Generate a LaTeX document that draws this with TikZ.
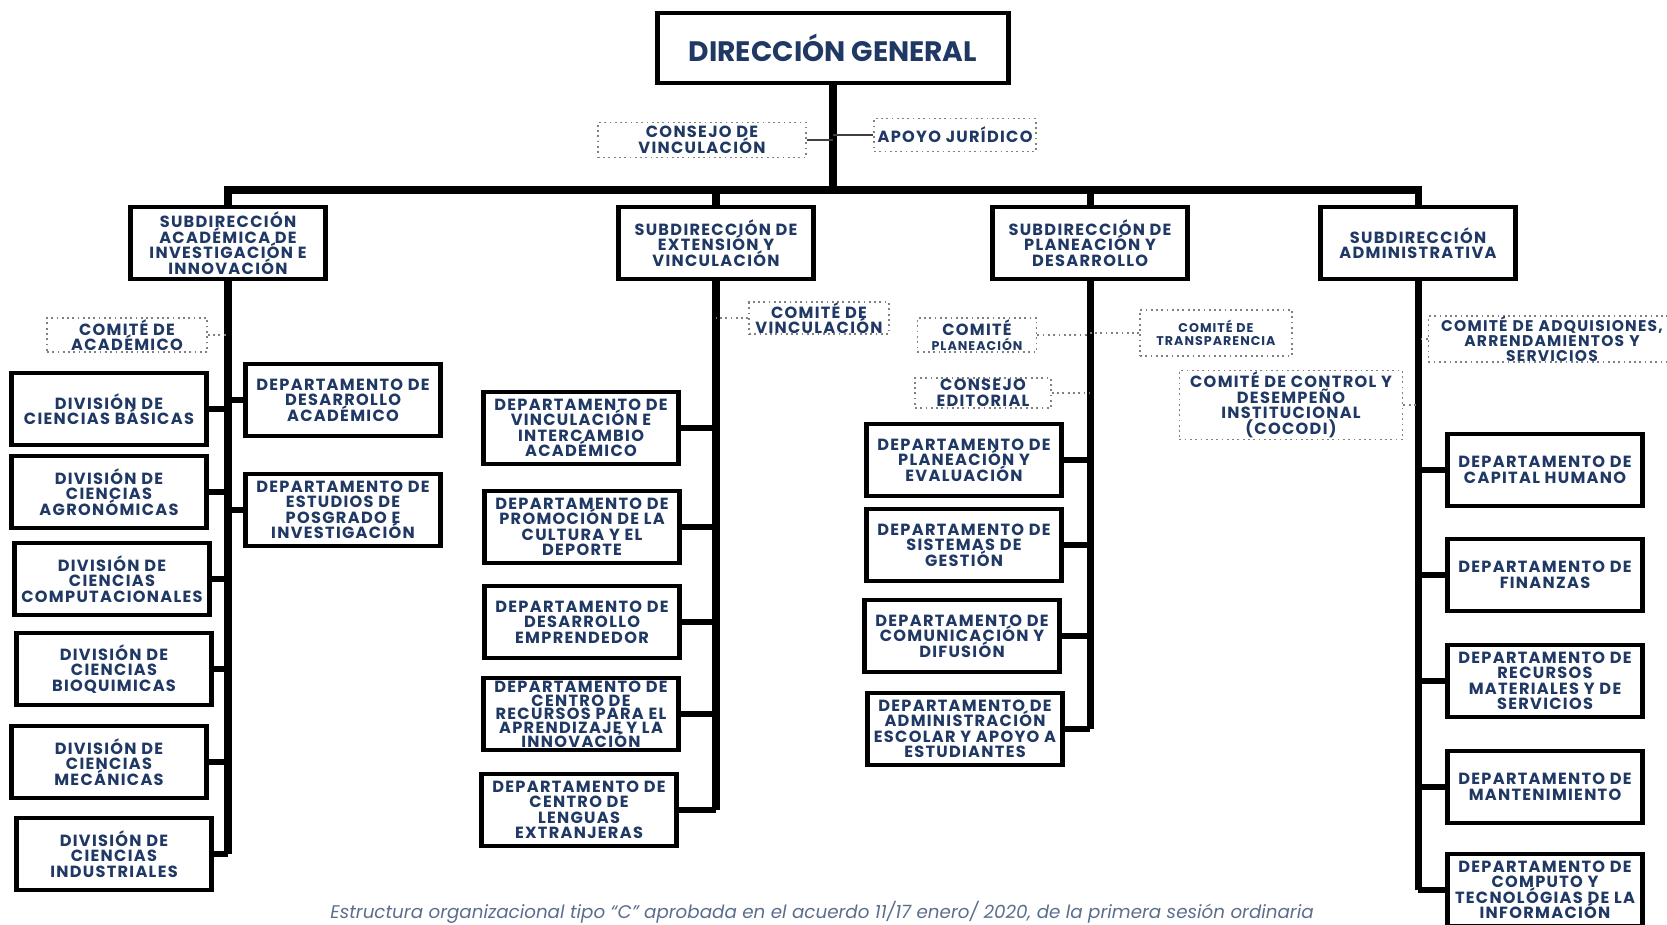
\documentclass[tikz,border=0pt]{standalone}
\usepackage{fontspec}
\setmainfont{Poppins}
\newfontfamily\caja[LetterSpace=8]{Poppins}
\usepackage{xcolor}
\usepackage{tikz}
\definecolor{azul}{RGB}{31,56,100}
\definecolor{leyenda}{RGB}{90,110,140}
\lineskiplimit=-10pt

\begin{document}
\begin{tikzpicture}[x=0.01cm, y=-0.01cm,
        unidad/.style={draw=black, line width=1.4pt, fill=white, align=center, text=azul, font=\caja\bfseries\fontsize{4.6}{4.4}\selectfont, inner xsep=1pt, inner ysep=0pt, minimum width=1.95cm, minimum height=0.72cm},
        comite/.style={draw=gray, densely dotted, line width=0.5pt, fill=white, align=center, text=azul, font=\caja\bfseries\fontsize{4.6}{4.4}\selectfont, inner xsep=1pt, inner ysep=0pt},
        rama/.style={line width=2pt},
        hoja/.style={line width=1.5pt},
        enlace/.style={line width=0.8pt, draw=darkgray},
        punteado/.style={line width=0.5pt, draw=gray, densely dotted}]
        \useasboundingbox (0,0) rectangle (1667,924);
        \node[unidad, minimum width=3.5cm, minimum height=0.7cm, font=\bfseries\fontsize{8}{9}\selectfont] (dg) at (833,48) {DIRECCIÓN GENERAL};
        \node[comite, minimum width=2.08cm, minimum height=0.35cm] (cv) at (702,140) {CONSEJO DE\\VINCULACIÓN};
        \node[comite, minimum width=1.6cm, minimum height=0.33cm] (aj) at (955,135) {APOYO JURÍDICO};
        \node[unidad] (sa) at (228,243) {SUBDIRECCIÓN\\ACADÉMICA DE\\INVESTIGACIÓN E\\INNOVACIÓN};
        \node[unidad] (se) at (716,243) {SUBDIRECCIÓN DE\\EXTENSIÓN Y\\VINCULACIÓN};
        \node[unidad] (sp) at (1090,243) {SUBDIRECCIÓN DE\\PLANEACIÓN Y\\DESARROLLO};
        \node[unidad] (sd) at (1418,243) {SUBDIRECCIÓN\\ADMINISTRATIVA};
        \node[unidad] (dcb) at (109,409) {DIVISIÓN DE\\CIENCIAS BÁSICAS};
        \node[unidad] (dca) at (109,492) {DIVISIÓN DE\\CIENCIAS\\AGRONÓMICAS};
        \node[unidad] (dcc) at (112,579) {DIVISIÓN DE\\CIENCIAS\\COMPUTACIONALES};
        \node[unidad] (dcq) at (114,669) {DIVISIÓN DE\\CIENCIAS\\BIOQUIMICAS};
        \node[unidad] (dcm) at (109,762) {DIVISIÓN DE\\CIENCIAS\\MECÁNICAS};
        \node[unidad] (dci) at (114,854) {DIVISIÓN DE\\CIENCIAS\\INDUSTRIALES};
        \node[unidad] (dda) at (343,400) {DEPARTAMENTO DE\\DESARROLLO\\ACADÉMICO};
        \node[unidad] (dep) at (343,510) {DEPARTAMENTO DE\\ESTUDIOS DE\\POSGRADO E\\INVESTIGACIÓN};
        \node[comite, minimum width=1.6cm, minimum height=0.34cm] (cca) at (127,335) {COMITÉ DE\\ACADÉMICO};
        \node[unidad] (dvi) at (581,428) {DEPARTAMENTO DE\\VINCULACIÓN E\\INTERCAMBIO\\ACADÉMICO};
        \node[unidad] (dpc) at (582,527) {DEPARTAMENTO DE\\PROMOCIÓN DE LA\\CULTURA Y EL\\DEPORTE};
        \node[unidad] (dde) at (582,622) {DEPARTAMENTO DE\\DESARROLLO\\EMPRENDEDOR};
        \node[unidad, font=\caja\bfseries\fontsize{4.6}{3.9}\selectfont] (dcr) at (581,714) {DEPARTAMENTO DE\\CENTRO DE\\RECURSOS PARA EL\\APRENDIZAJE Y LA\\INNOVACIÓN};
        \node[unidad] (dle) at (579,810) {DEPARTAMENTO DE\\CENTRO DE\\LENGUAS\\EXTRANJERAS};
        \node[comite, minimum width=1.4cm, minimum height=0.28cm] (ccv) at (819,318) {COMITÉ DE\\VINCULACIÓN};
        \node[unidad] (dpe) at (964,460) {DEPARTAMENTO DE\\PLANEACIÓN Y\\EVALUACIÓN};
        \node[unidad] (dsg) at (964,545) {DEPARTAMENTO DE\\SISTEMAS DE\\GESTIÓN};
        \node[unidad] (dcd) at (962,636) {DEPARTAMENTO DE\\COMUNICACIÓN Y\\DIFUSIÓN};
        \node[unidad] (dae) at (965,729) {DEPARTAMENTO DE\\ADMINISTRACIÓN\\ESCOLAR Y APOYO A\\ESTUDIANTES};
        \node[comite, minimum width=1.19cm, minimum height=0.34cm] (ccp) at (977,335) {COMITÉ\\{\fontsize{3.6}{4.4}\selectfont PLANEACIÓN}};
        \node[comite, minimum width=1.36cm, minimum height=0.3cm] (cce) at (983,393) {CONSEJO\\EDITORIAL};
        \node[comite, minimum width=1.52cm, minimum height=0.46cm, font=\caja\bfseries\fontsize{3.6}{3.8}\selectfont] (cct) at (1216,333) {COMITÉ DE\\TRANSPARENCIA};
        \node[comite, minimum width=2.23cm, minimum height=0.69cm] (ccc) at (1291,405) {COMITÉ DE CONTROL Y\\DESEMPEÑO\\INSTITUCIONAL\\(COCODI)};
        \node[unidad] (dch) at (1545,470) {DEPARTAMENTO DE\\CAPITAL HUMANO};
        \node[unidad] (dfi) at (1545,575) {DEPARTAMENTO DE\\FINANZAS};
        \node[unidad] (drm) at (1545,681) {DEPARTAMENTO DE\\RECURSOS\\MATERIALES Y DE\\SERVICIOS};
        \node[unidad] (dma) at (1545,787) {DEPARTAMENTO DE\\MANTENIMIENTO};
        \node[unidad] (dct) at (1545,890) {DEPARTAMENTO DE\\COMPUTO Y\\TECNOLÓGIAS DE LA\\INFORMACIÓN};
        \node[comite, minimum width=2.47cm, minimum height=0.46cm, text width=2.3cm, font=\caja\bfseries\fontsize{4.4}{4.3}\selectfont] (cad) at (1552,339) {COMITÉ DE ADQUISIONES,\\ARRENDAMIENTOS Y\\SERVICIOS};
        \node[font=\itshape\fontsize{5.2}{6}\selectfont, text=leyenda] (ley) at (822,912) {Estructura organizacional tipo “C” aprobada en el acuerdo 11/17 enero/ 2020, de la primera sesión ordinaria};
        \coordinate (barra) at (833,190);
        \draw[rama] (dg.south) -- (barra);
        \draw[rama] (sa.north) -- (sa.north |- barra) -- (sd.north |- barra) -- (sd.north);
        \draw[rama] (se.north) -- (se.north |- barra);
        \draw[rama] (sp.north) -- (sp.north |- barra);
        \draw[enlace] (cv.east) -- (cv.east -| dg.south);
        \draw[enlace] (aj.west) -- (aj.west -| dg.south);
        \draw[rama] (sa.south) -- (sa.south |- dci.east);
        \draw[hoja] (dcb.east) -- (dcb.east -| sa.south);
        \draw[hoja] (dca.east) -- (dca.east -| sa.south);
        \draw[hoja] (dcc.east) -- (dcc.east -| sa.south);
        \draw[hoja] (dcq.east) -- (dcq.east -| sa.south);
        \draw[hoja] (dcm.east) -- (dcm.east -| sa.south);
        \draw[hoja] (dci.east) -- (dci.east -| sa.south);
        \draw[hoja] (dda.west) -- (dda.west -| sa.south);
        \draw[hoja] (dep.west) -- (dep.west -| sa.south);
        \draw[punteado] (cca.east) -- (cca.east -| sa.south);
        \draw[rama] (se.south) -- (se.south |- dle.east);
        \draw[hoja] (dvi.east) -- (dvi.east -| se.south);
        \draw[hoja] (dpc.east) -- (dpc.east -| se.south);
        \draw[hoja] (dde.east) -- (dde.east -| se.south);
        \draw[hoja] (dcr.east) -- (dcr.east -| se.south);
        \draw[hoja] (dle.east) -- (dle.east -| se.south);
        \draw[punteado] (ccv.west) -- (ccv.west -| se.south);
        \draw[rama] (sp.south) -- (sp.south |- dae.east);
        \draw[hoja] (dpe.east) -- (dpe.east -| sp.south);
        \draw[hoja] (dsg.east) -- (dsg.east -| sp.south);
        \draw[hoja] (dcd.east) -- (dcd.east -| sp.south);
        \draw[hoja] (dae.east) -- (dae.east -| sp.south);
        \draw[punteado] (ccp.east) -- (ccp.east -| sp.south);
        \draw[punteado] (cce.east) -- (cce.east -| sp.south);
        \draw[punteado] (cct.west) -- (cct.west -| sp.south);
        \draw[rama] (sd.south) -- (sd.south |- dct.west);
        \draw[hoja] (dch.west) -- (dch.west -| sd.south);
        \draw[hoja] (dfi.west) -- (dfi.west -| sd.south);
        \draw[hoja] (drm.west) -- (drm.west -| sd.south);
        \draw[hoja] (dma.west) -- (dma.west -| sd.south);
        \draw[hoja] (dct.west) -- (dct.west -| sd.south);
        \draw[punteado] (ccc.east) -- (ccc.east -| sd.south);
        \draw[punteado] (cad.west) -- (cad.west -| sd.south);
\end{tikzpicture}
\end{document}
